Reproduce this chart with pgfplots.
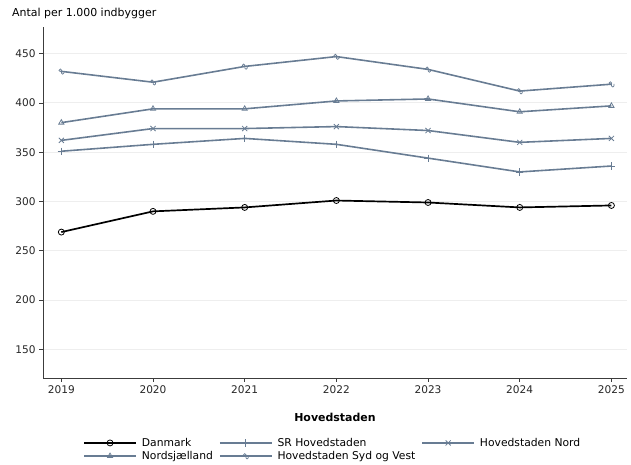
\documentclass[border=0pt]{standalone}
\usepackage{pgfplots}
\pgfplotsset{compat=1.18}
\usepackage{fontspec}
\setmainfont{DejaVu Sans}
\definecolor{sgray}{RGB}{104,124,147}
\definecolor{gridc}{RGB}{238,238,238}
\definecolor{axc}{RGB}{60,60,60}
\pgfdeclareplotmark{ou}{%
  \pgfpathcircle{\pgfpoint{-0.35\pgfplotmarksize}{0.35\pgfplotmarksize}}{0.45\pgfplotmarksize}%
  \pgfusepathqstroke
  \pgfpathmoveto{\pgfpoint{0.05\pgfplotmarksize}{0.1\pgfplotmarksize}}%
  \pgfpathlineto{\pgfpoint{0.05\pgfplotmarksize}{-0.6\pgfplotmarksize}}%
  \pgfpathcurveto{\pgfpoint{0.05\pgfplotmarksize}{-1.05\pgfplotmarksize}}{\pgfpoint{0.85\pgfplotmarksize}{-1.05\pgfplotmarksize}}{\pgfpoint{0.85\pgfplotmarksize}{-0.6\pgfplotmarksize}}%
  \pgfpathlineto{\pgfpoint{0.85\pgfplotmarksize}{0.1\pgfplotmarksize}}%
  \pgfusepathqstroke
}
\begin{document}
\begin{tikzpicture}
\useasboundingbox (0,0) rectangle (631bp,465bp);
\begin{axis}[
  at={(43bp,87bp)}, anchor=origin,
  scale only axis, width=584bp, height=351bp,
  xmin=2018.8, xmax=2025.17, ymin=121, ymax=477,
  axis x line*=bottom, axis y line*=left,
  axis line style={axc, line width=0.9pt},
  xtick={2019,...,2025}, ytick={150,200,...,450},
  tick align=outside, major tick length=4bp,
  tick style={axc, line width=0.7pt},
  xticklabel style={/pgf/number format/1000 sep=},
  /pgf/number format/assume math mode=true,
  ticklabel style={font=\fontsize{10.6}{12}\selectfont, text=black!85},
  ymajorgrids, grid style={gridc, line width=0.9pt},
  xlabel={\textbf{Hovedstaden}},
  xlabel style={font=\fontsize{11}{13}\selectfont, at={(axis description cs:0.5,-0.111)}, anchor=center},
  legend columns=3,
  legend style={at={(axis description cs:0.0685,-0.165)}, anchor=north west, draw=none, fill=none,
    inner sep=0pt, font=\fontsize{10.8}{12}\selectfont, row sep=-0.5bp,
    /tikz/every odd column/.append style={column sep=3bp},
    /tikz/every even column/.append style={column sep=4bp}},
  legend cell align=left,
  legend image code/.code={%
    \draw[mark repeat=2,mark phase=2,#1] plot coordinates {(0bp,0bp) (26bp,0bp) (52bp,0bp)};},
  mark size=3bp,
]
\addplot[black, line width=1.7pt, mark=o, mark options={line width=0.8pt}] coordinates {
(2019,269) (2020,290) (2021,294) (2022,301) (2023,299) (2024,294) (2025,296)};
\addlegendentry{Danmark}
\addplot[sgray, line width=1.6pt, mark=+, mark options={line width=0.8pt, scale=1.2}] coordinates {
(2019,351) (2020,358) (2021,364) (2022,358) (2023,344) (2024,330) (2025,336)};
\addlegendentry{SR Hovedstaden}
\addplot[sgray, line width=1.6pt, mark=x, mark options={line width=0.8pt, scale=1.2}] coordinates {
(2019,362) (2020,374) (2021,374) (2022,376) (2023,372) (2024,360) (2025,364)};
\addlegendentry{Hovedstaden Nord}
\addplot[sgray, line width=1.6pt, mark=triangle, mark options={line width=0.8pt, scale=1.0}] coordinates {
(2019,380) (2020,394) (2021,394) (2022,402) (2023,404) (2024,391) (2025,397)};
\addlegendentry{Nordsjælland}
\addplot[sgray, line width=1.6pt, mark=ou, mark options={line width=0.7pt}] coordinates {
(2019,432) (2020,421) (2021,437) (2022,447) (2023,434) (2024,412) (2025,419)};
\addlegendentry{Hovedstaden Syd og Vest}
\end{axis}
\node[anchor=base west, font=\fontsize{11}{13}\selectfont, inner sep=0pt] at (12bp,448bp) {Antal per 1.000 indbygger};
\end{tikzpicture}
\end{document}
